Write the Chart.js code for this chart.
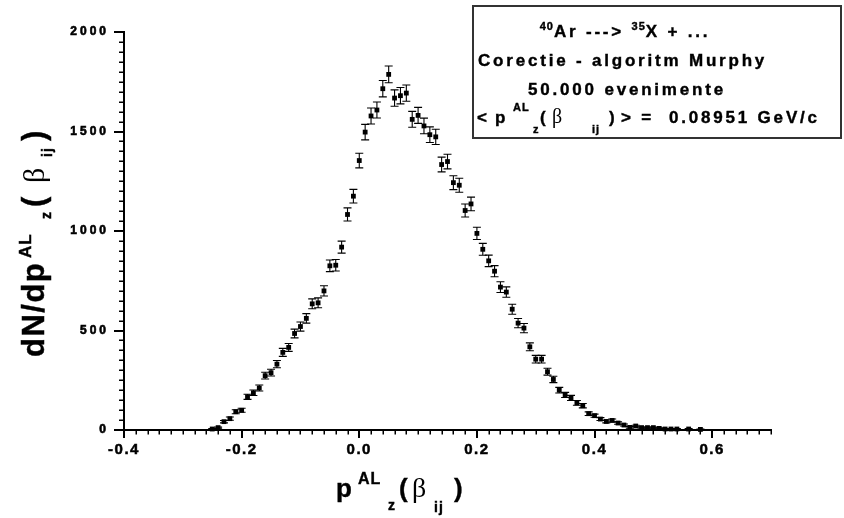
<!DOCTYPE html>
<html><head><meta charset="utf-8">
<script src="https://cdn.jsdelivr.net/npm/chart.js@4.4.1/dist/chart.umd.min.js"></script>
<style>
html,body{margin:0;padding:0;background:#fff;}
#wrap{position:relative;width:844px;height:518px;overflow:hidden;background:#fff;}
#c{position:absolute;left:0;top:0;}
.t{position:absolute;white-space:pre;line-height:1;font-family:"Liberation Sans",Arial,sans-serif;font-weight:bold;color:#000;-webkit-text-stroke:0.4px #000;}
.g{font-family:"Liberation Serif","Times New Roman",serif;font-weight:normal;-webkit-text-stroke:0;}
#box{position:absolute;left:472px;top:5px;width:370px;height:134px;box-sizing:border-box;border:2px solid #333;}
#ytitle{position:absolute;left:0;top:357px;width:260px;height:70px;transform-origin:0 0;transform:rotate(-90deg);}
</style></head>
<body><div id="wrap">
<canvas id="c" width="844" height="518"></canvas>
<div id="box"></div>
<div class="t" style="left:475px;top:22.6px;width:300px;text-align:center;font-size:17px;letter-spacing:2.8px"><span style="position:relative;top:-7px;font-size:11px;letter-spacing:1px">40</span>Ar ---&gt; <span style="position:relative;top:-7px;font-size:11px;letter-spacing:1px">35</span>X + ...</div>
<div class="t" style="left:478px;top:51.6px;font-size:17px;letter-spacing:2.8px">Corectie - algoritm Murphy</div>
<div class="t" style="left:477px;top:80.6px;width:300px;text-align:center;font-size:17px;letter-spacing:2.8px">50.000 evenimente</div>
<div class="t" style="left:477px;top:108.6px;font-size:17px">&lt;</div>
<div class="t" style="left:495px;top:108.6px;font-size:17px">p</div>
<div class="t" style="left:513px;top:101.5px;font-size:11px;letter-spacing:1px">AL</div>
<div class="t" style="left:533px;top:123.7px;font-size:11px">z</div>
<div class="t" style="left:540px;top:108.6px;font-size:17px">(</div>
<div class="t g" style="left:552px;top:106.2px;font-size:20px">β</div>
<div class="t" style="left:592px;top:123.7px;font-size:11px;letter-spacing:1px">ij</div>
<div class="t" style="left:609px;top:108.6px;font-size:17px">)</div>
<div class="t" style="left:621px;top:108.6px;font-size:17px;letter-spacing:2.8px">&gt; =  0.08951 GeV/c</div>

<div class="t" style="left:336px;top:475px;font-size:26px">p</div>
<div class="t" style="left:358px;top:470.5px;font-size:16px;letter-spacing:1px">AL</div>
<div class="t" style="left:388px;top:498px;font-size:14px">z</div>
<div class="t" style="left:399px;top:475px;font-size:26px">(</div>
<div class="t g" style="left:412px;top:473.5px;font-size:28px">β</div>
<div class="t" style="left:434px;top:500px;font-size:14px;letter-spacing:1px">ij</div>
<div class="t" style="left:454px;top:475px;font-size:26px">)</div>

<div id="ytitle">
<div class="t" style="left:0px;top:17.8px;font-size:31px;letter-spacing:1.5px">dN/dp</div>
<div class="t" style="left:99px;top:16.6px;font-size:17px;letter-spacing:1px">AL</div>
<div class="t" style="left:138px;top:39.1px;font-size:14px">z</div>
<div class="t" style="left:150px;top:17.8px;font-size:31px">(</div>
<div class="t g" style="left:174px;top:18.9px;font-size:30px">β</div>
<div class="t" style="left:200px;top:40.1px;font-size:14px;letter-spacing:1px">ij</div>
<div class="t" style="left:216px;top:17.8px;font-size:31px">)</div>
</div>
</div>
<script>
const xValues = [-0.25,-0.24,-0.23,-0.22,-0.21,-0.20,-0.19,-0.18,-0.17,-0.16,-0.15,-0.14,-0.13,-0.12,-0.11,-0.10,-0.09,-0.08,-0.07,-0.06,-0.05,-0.04,-0.03,-0.02,-0.01,
  0.00,0.01,0.02,0.03,0.04,0.05,0.06,0.07,0.08,0.09,0.10,0.11,0.12,0.13,0.14,0.15,0.16,0.17,0.18,0.19,0.20,0.21,0.22,0.23,0.24,0.25,0.26,0.27,0.28,0.29,
  0.30,0.31,0.32,0.33,0.34,0.35,0.36,0.37,0.38,0.39,0.40,0.41,0.42,0.43,0.44,0.45,0.46,0.47,0.48,0.49,0.50,0.51,0.52,0.53,0.54,0.56,0.58];
const counts = [5,12,42,57,92,99,167,187,211,273,288,331,390,415,485,520,561,634,639,699,825,828,919,1083,1175,
  1354,1497,1578,1608,1715,1787,1668,1680,1693,1561,1581,1528,1484,1473,1334,1349,1243,1230,1103,1136,988,908,850,798,718,693,607,537,512,418,
  356,356,293,254,200,176,161,136,122,82,72,55,43,48,35,25,13,20,12,12,12,8,5,5,5,5,3];
const errors = [2,3,6,8,10,10,13,14,15,17,17,18,20,20,22,23,24,25,25,26,29,29,30,33,34,
  37,39,40,40,41,42,41,41,41,40,40,39,39,38,37,37,35,35,33,34,31,30,29,28,27,26,25,23,23,20,
  19,19,17,16,14,13,13,12,11,9,8,7,7,7,6,5,4,4,3,3,3,3,2,2,2,2,2];
const xTicks = [-0.4,-0.2,0.0,0.2,0.4,0.6];
const yTicks = [0,500,1000,1500,2000];
const xMinorStep = 0.02;
const yMinorStep = 50;

const points = xValues.map((x,i)=>({x:x, y:counts[i]}));

const extras = {
  id:'extras',
  beforeDraw(chart){
    const ls = {x:'1.5px', y:'3px'};
    ['x','y'].forEach(id=>{
      const s = chart.scales[id];
      if(!s._lsPatched){
        const orig = s.drawLabels.bind(s);
        s.drawLabels = function(a){
          const ctx = this.ctx;
          const old = ctx.letterSpacing;
          ctx.letterSpacing = ls[id];
          orig(a);
          ctx.letterSpacing = old || '0px';
        };
        s._lsPatched = true;
      }
    });
  },
  beforeDatasetsDraw(chart){
    const ctx = chart.ctx, xs = chart.scales.x, ys = chart.scales.y;
    ctx.save();
    ctx.strokeStyle = '#000';
    ctx.lineWidth = 1.1;
    for(let i=0;i<xValues.length;i++){
      const px = xs.getPixelForValue(xValues[i]);
      const top = ys.getPixelForValue(counts[i]+errors[i]);
      const bot = ys.getPixelForValue(counts[i]-errors[i]);
      ctx.beginPath();
      ctx.moveTo(px, top); ctx.lineTo(px, bot);
      ctx.moveTo(px-4, top); ctx.lineTo(px+4, top);
      ctx.moveTo(px-4, bot); ctx.lineTo(px+4, bot);
      ctx.stroke();
    }
    ctx.restore();
  },
  afterDraw(chart){
    const ctx = chart.ctx, xs = chart.scales.x, ys = chart.scales.y, a = chart.chartArea;
    ctx.save();
    ctx.strokeStyle = '#000';
    ctx.lineWidth = 1.5;
    ctx.beginPath();
    const nx = Math.round((xs.max - xs.min)/xMinorStep);
    for(let i=0;i<=nx;i++){
      if(i%10===0) continue;
      const v = xs.min + i*xMinorStep;
      const px = Math.round(xs.getPixelForValue(v))+0.25;
      ctx.moveTo(px, a.bottom); ctx.lineTo(px, a.bottom+4.5);
    }
    const ny = Math.round((ys.max - ys.min)/yMinorStep);
    for(let i=0;i<=ny;i++){
      if(i%10===0) continue;
      const v = ys.min + i*yMinorStep;
      const py = Math.round(ys.getPixelForValue(v))+0.25;
      ctx.moveTo(a.left-5, py); ctx.lineTo(a.left, py);
    }
    ctx.stroke();
    ctx.restore();
  }
};

new Chart(document.getElementById('c'), {
  type:'scatter',
  data:{datasets:[{
    data: points,
    pointStyle:'rect',
    pointRadius:3.4,
    pointHoverRadius:3.4,
    backgroundColor:'#000',
    borderColor:'#000',
    borderWidth:0,
    showLine:false,
    clip:false
  }]},
  options:{
    responsive:false,
    animation:false,
    events:[],
    layout:{padding:{top:32,right:73,left:0,bottom:0}},
    plugins:{legend:{display:false},tooltip:{enabled:false}},
    scales:{
      x:{
        type:'linear', min:-0.4, max:0.7,
        afterFit(s){ s.height = 88; },
        afterBuildTicks(s){ s.ticks = xTicks.map(v=>({value:v})); },
        ticks:{callback:(v)=>Number(v).toFixed(1), color:'#000', padding:3, maxRotation:0, autoSkip:false,
          textStrokeColor:'#000', textStrokeWidth:0.5,
          font:{family:'"Liberation Sans", Arial, sans-serif', size:15, weight:'bold'}},
        grid:{drawOnChartArea:false, drawTicks:true, tickLength:8, lineWidth:2, color:'#000'},
        border:{display:true, width:2, color:'#000'}
      },
      y:{
        type:'linear', min:0, max:2000,
        afterFit(s){ s.width = 124; },
        afterBuildTicks(s){ s.ticks = yTicks.map(v=>({value:v})); },
        ticks:{callback:(v)=>String(v), color:'#000', padding:5,
          textStrokeColor:'#000', textStrokeWidth:0.6,
          font:{family:'"Liberation Sans", Arial, sans-serif', size:12, weight:'bold'}},
        grid:{drawOnChartArea:false, drawTicks:true, tickLength:10, lineWidth:2, color:'#000'},
        border:{display:true, width:2, color:'#000'}
      }
    }
  },
  plugins:[extras]
});
</script>
</body></html>
